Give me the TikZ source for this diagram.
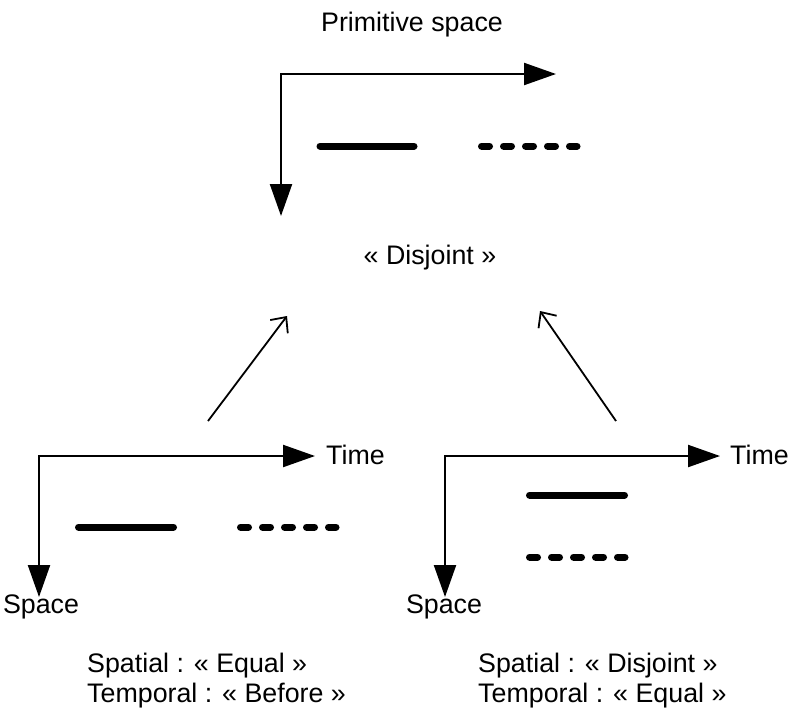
\documentclass[tikz,border=0pt]{standalone}
\usepackage{fontspec}
\setmainfont{Liberation Sans}
\usetikzlibrary{arrows.meta}
\begin{document}
\begin{tikzpicture}[x=1pt,y=-1pt,
  axis/.style={line width=2.2pt,{Triangle[length=32pt,width=22pt]}-{Triangle[length=32pt,width=22pt]}},
  relarrow/.style={line width=1.8pt,-{Straight Barb[length=12pt,width=22pt,line width=1.8pt]}},
  solidseg/.style={line width=7pt,line cap=round},
  dashseg/.style={line width=7pt,line cap=round,dash pattern=on 8pt off 14pt},
  lbl/.style={inner sep=0pt,anchor=base,font=\fontsize{26.8}{30}\selectfont},
  lblw/.style={lbl,anchor=base west},
  blk/.style={inner sep=0pt,anchor=base west,align=left,font=\fontsize{26.8}{30}\selectfont}]
\useasboundingbox (0,0) rectangle (791,710);
% top
\coordinate (tc) at (281,74);
\coordinate (tr) at (556,74);
\coordinate (tb) at (281,216);
\draw[axis] (tr) -- (tc) -- (tb);
\node[lbl] (prim) at (412,31) {Primitive space};
\draw[solidseg] (320,146) -- (414,146);
\draw[dashseg] (481.5,146) -- (577,146);
\node[lbl] (disj) at (430,264) {« Disjoint »};
% arrows
\coordinate (la0) at (208,421);
\coordinate (la1) at (287,316);
\coordinate (ra0) at (616,421);
\coordinate (ra1) at (540,311);
\draw[relarrow] (la0) -- (la1);
\draw[relarrow] (ra0) -- (ra1);
% bottom left
\coordinate (lc) at (39,456);
\coordinate (lr) at (315,456);
\coordinate (lb) at (39,597);
\draw[axis] (lr) -- (lc) -- (lb);
\node[lblw] (ltime) at (326,464) {Time};
\node[lbl] (lspace) at (41,613) {Space};
\draw[solidseg] (78.5,527) -- (173.5,527);
\draw[dashseg] (240.5,527) -- (336,527);
% bottom right
\coordinate (rc) at (445,456);
\coordinate (rr) at (720,456);
\coordinate (rb) at (445,597);
\draw[axis] (rr) -- (rc) -- (rb);
\node[lblw] (rtime) at (730,464) {Time};
\node[lbl] (rspace) at (444,613) {Space};
\draw[solidseg] (529.5,495) -- (624.5,495);
\draw[dashseg] (529.5,557) -- (625,557);
% captions
\node[blk] (lcap) at (87,702) {Spatial : « Equal »\\Temporal : « Before »};
\node[blk] (rcap) at (478,702) {Spatial : « Disjoint »\\Temporal : « Equal »};
\end{tikzpicture}
\end{document}
